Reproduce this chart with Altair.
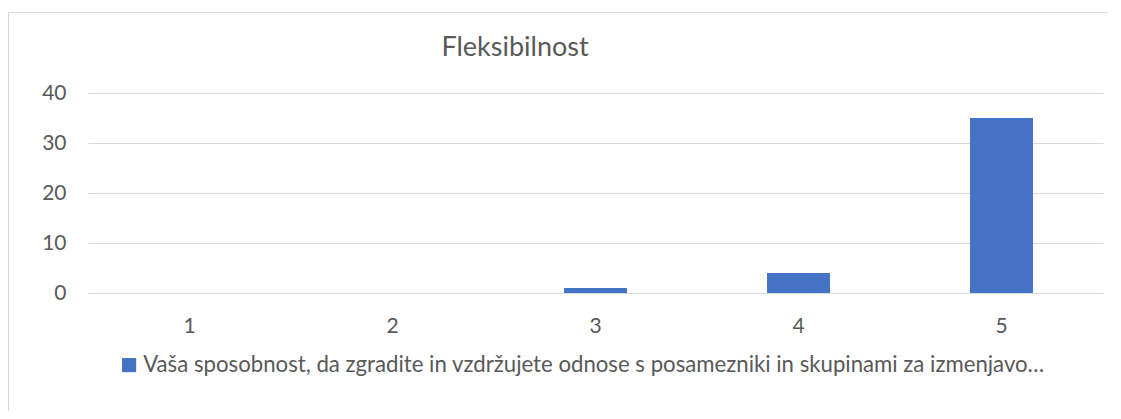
import altair as alt
import pandas as pd

categories = ["1", "2", "3", "4", "5"]
values = [0, 0, 1, 4, 35]
series_name = "Vaša sposobnost, da zgradite in vzdržujete odnose s posamezniki in skupinami za izmenjavo…"
title_text = "Fleksibilnost"
y_ticks = [0, 10, 20, 30, 40]

df = pd.DataFrame({"cat": categories, "val": values, "series": [series_name] * len(categories)})

FONT = "Lato"
TXT = "#595959"
GRID = "#D9D9D9"
W, H = 1015, 200
PL, PT = 80, 85
PR, PB = 5, 118

bars = alt.Chart(df).mark_bar(color="#4472C4").encode(
    x=alt.X("cat:N", sort=categories,
            scale=alt.Scale(paddingInner=0.69, paddingOuter=0.345),
            axis=alt.Axis(title=None, labelAngle=0, ticks=False, domain=False,
                          labelFont=FONT, labelFontSize=21, labelColor=TXT,
                          labelPadding=22)),
    y=alt.Y("val:Q", scale=alt.Scale(domain=[0, 40], nice=False),
            axis=alt.Axis(title=None, values=y_ticks, ticks=False, domain=False,
                          grid=True, gridColor=GRID, gridWidth=1,
                          labelFont=FONT, labelFontSize=21, labelColor=TXT,
                          labelPadding=22)),
    color=alt.Color("series:N", scale=alt.Scale(range=["#4472C4"]),
                    legend=alt.Legend(title=None, orient="none", legendX=30, legendY=261,
                                      symbolType="square", symbolSize=200,
                                      symbolStrokeWidth=0, symbolFillColor="#4472C4",
                                      labelFont=FONT, labelFontSize=22.2, labelColor=TXT,
                                      labelLimit=2000, labelOffset=3, padding=0)),
)

title = alt.Chart(pd.DataFrame({"t": [title_text]})).mark_text(
    font=FONT, fontSize=27, color=TXT, align="center", baseline="middle"
).encode(text="t:N", x=alt.value(515 - 8 - PL), y=alt.value(48 - 8 - PT))

frame_top = alt.Chart(pd.DataFrame({"a": [0]})).mark_rule(color="#D9D9D9", strokeWidth=1).encode(
    x=alt.value(-PL), x2=alt.value(W + PR), y=alt.value(12.5 - 8 - PT))
frame_left = alt.Chart(pd.DataFrame({"a": [0]})).mark_rule(color="#D9D9D9", strokeWidth=1).encode(
    x=alt.value(-PL + 0.5), y=alt.value(12 - 8 - PT), y2=alt.value(H + PB))

chart = alt.layer(frame_top, frame_left, bars, title).properties(
    width=W, height=H,
    background="white",
    autosize=alt.AutoSizeParams(type="none"),
    padding={"left": PL, "top": PT, "right": PR, "bottom": PB},
).configure_view(strokeWidth=0)

chart.save("out.html", embed_options={"renderer": "svg", "actions": False})
